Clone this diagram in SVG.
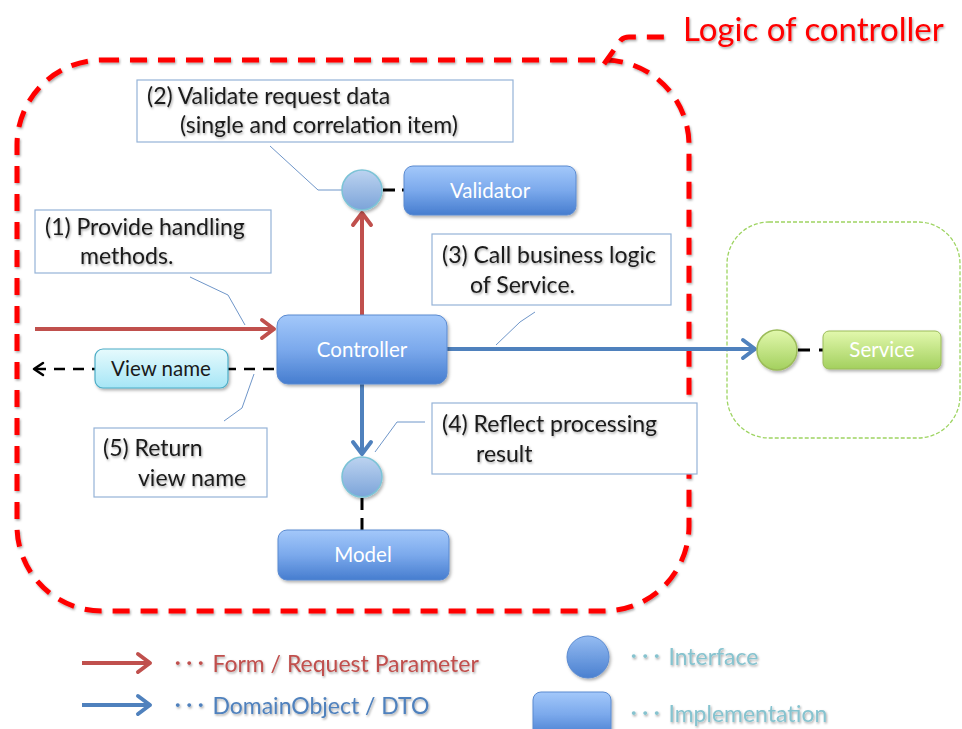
<svg xmlns="http://www.w3.org/2000/svg" width="962" height="729" viewBox="0 0 962 729">
<defs>
  <linearGradient id="gBlue" x1="0" y1="0" x2="0" y2="1">
    <stop offset="0" stop-color="#a3c8fa"/>
    <stop offset="0.5" stop-color="#7ba9ec"/>
    <stop offset="1" stop-color="#467dcf"/>
  </linearGradient>
  <linearGradient id="gIf" x1="0" y1="0" x2="0" y2="1">
    <stop offset="0" stop-color="#bcd3f0"/>
    <stop offset="1" stop-color="#7ca4d9"/>
  </linearGradient>
  <linearGradient id="gIfLegend" x1="0" y1="0" x2="0" y2="1">
    <stop offset="0" stop-color="#95bcf2"/>
    <stop offset="1" stop-color="#4a80d0"/>
  </linearGradient>
  <linearGradient id="gGreen" x1="0" y1="0" x2="0" y2="1">
    <stop offset="0" stop-color="#e2f8ad"/>
    <stop offset="1" stop-color="#a3d05e"/>
  </linearGradient>
  <linearGradient id="gCyan" x1="0" y1="0" x2="0" y2="1">
    <stop offset="0" stop-color="#e6fafd"/>
    <stop offset="1" stop-color="#a6e6f6"/>
  </linearGradient>
  <filter id="sh" x="-20%" y="-20%" width="140%" height="150%">
    <feDropShadow dx="1.5" dy="2" stdDeviation="1.5" flood-color="#000" flood-opacity="0.3"/>
  </filter>
  <filter id="tsh" x="-10%" y="-20%" width="120%" height="150%">
    <feDropShadow dx="1" dy="1.5" stdDeviation="1" flood-color="#000" flood-opacity="0.35"/>
  </filter>
  <marker id="mRed" markerUnits="userSpaceOnUse" viewBox="-16 -12 20 24" markerWidth="20" markerHeight="24" refX="0" refY="0" orient="auto">
    <path d="M-12,-9 L0,0 L-12,9" fill="none" stroke="#c0504d" stroke-width="4" stroke-linecap="round" stroke-linejoin="round"/>
  </marker>
  <marker id="mBlue" markerUnits="userSpaceOnUse" viewBox="-16 -12 20 24" markerWidth="20" markerHeight="24" refX="0" refY="0" orient="auto">
    <path d="M-12,-9 L0,0 L-12,9" fill="none" stroke="#4f81bd" stroke-width="4" stroke-linecap="round" stroke-linejoin="round"/>
  </marker>
  <marker id="mBlack" markerUnits="userSpaceOnUse" viewBox="-14 -10 18 20" markerWidth="18" markerHeight="20" refX="0" refY="0" orient="auto">
    <path d="M-9,-6 L0,0 L-9,6" fill="none" stroke="#000" stroke-width="2.5" stroke-linecap="round" stroke-linejoin="round"/>
  </marker>
  <style>
    .impl { fill: url(#gBlue); stroke: #5a8ad0; stroke-width: 1; filter: url(#sh); }
    .iface { fill: url(#gIf); stroke: #7cc3d6; stroke-width: 1.5; filter: url(#sh); }
    .lbl { font-family: Lato, "Open Sans", "Liberation Sans", sans-serif; font-size: 20.5px; fill: #ffffff; text-anchor: middle; }
    .call { fill: #ffffff; stroke: #95b3d7; stroke-width: 1.2; }
    .ct { font-family: Lato, "Open Sans", "Liberation Sans", sans-serif; font-size: 23px; fill: #1a1a1a; filter: url(#tsh); }
    .ptr { fill: none; stroke: #6f96c9; stroke-width: 1; }
    .red { stroke: #c0504d; stroke-width: 4; fill: none; }
    .blue { stroke: #4f81bd; stroke-width: 4; fill: none; }
    .blk { stroke: #000; stroke-width: 3; fill: none; }
    .leg { font-family: Lato, "Open Sans", "Liberation Sans", "Noto Sans CJK JP", sans-serif; font-size: 23px; filter: url(#tsh); }
  </style>
</defs>

<!-- Logic of controller boundary -->
<g id="controller-logic">
  <rect x="17" y="60" width="672" height="551" rx="85" ry="85" fill="none" stroke="#ff0000" stroke-width="5" stroke-dasharray="17,11" filter="url(#tsh)"/>
  <path d="M604,64 L621,40 Q624,37 629,37 L666,37" fill="none" stroke="#ff0000" stroke-width="5" stroke-dasharray="17,11" filter="url(#tsh)"/>
  <text x="683" y="41" font-family="Lato, 'Open Sans', 'Liberation Sans', sans-serif" font-size="33" fill="#ff0000" filter="url(#tsh)">Logic of controller</text>
</g>

<!-- Service boundary -->
<g id="service-area">
  <rect x="727" y="222" width="233" height="216" rx="42" ry="42" fill="none" stroke="#9ed462" stroke-width="1.3" stroke-dasharray="4,2"/>
</g>

<!-- Connectors -->
<g id="connectors">
  <line x1="35" y1="329" x2="274" y2="329" class="red" marker-end="url(#mRed)"/>
  <line x1="362" y1="315" x2="362" y2="213" class="red" marker-end="url(#mRed)"/>
  <line x1="447" y1="349" x2="755" y2="349" class="blue" marker-end="url(#mBlue)"/>
  <line x1="362" y1="384" x2="362" y2="454" class="blue" marker-end="url(#mBlue)"/>
  <line x1="274" y1="369" x2="34" y2="369" stroke="#000" stroke-width="2.5" stroke-dasharray="11,8" marker-end="url(#mBlack)"/>
  <path d="M383,190 L395,190 M402,190 L405,190" class="blk"/>
  <path d="M362,498 L362,510 M362,518 L362,530" class="blk"/>
  <path d="M798,350 L810,350 M819,350 L823,350" class="blk"/>
  <!-- callout pointers -->
  <polyline points="270,146 318,190 342,190" class="ptr"/>
  <polyline points="190,277 228,295 245,325" class="ptr"/>
  <polyline points="535,312 520,322 496,345" class="ptr"/>
  <polyline points="425,422 397,422 375,452" class="ptr"/>
  <polyline points="224,421 242,408 254,374" class="ptr"/>
</g>

<!-- Nodes -->
<g id="validator-if"><circle cx="362" cy="190" r="20" class="iface"/></g>
<g id="validator">
  <rect x="404" y="166" width="172" height="49" rx="9" class="impl"/>
  <text x="490" y="198" class="lbl">Validator</text>
</g>
<g id="controller">
  <rect x="277" y="315" width="170" height="69" rx="11" class="impl"/>
  <text x="362" y="357" class="lbl">Controller</text>
</g>
<g id="model-if"><circle cx="362" cy="477" r="20" class="iface"/></g>
<g id="model">
  <rect x="278" y="530" width="171" height="50" rx="9" class="impl"/>
  <text x="363" y="562" class="lbl">Model</text>
</g>
<g id="service-if"><circle cx="777" cy="350" r="20" fill="url(#gGreen)" stroke="#9bbb59" stroke-width="1.5" filter="url(#sh)"/></g>
<g id="service">
  <rect x="823" y="331" width="118" height="38" rx="6" fill="url(#gGreen)" stroke="#9bbb59" stroke-width="1" filter="url(#sh)"/>
  <text x="882" y="357" class="lbl">Service</text>
</g>
<g id="view-name">
  <rect x="95" y="349" width="133" height="39" rx="8" fill="url(#gCyan)" stroke="#4bacc6" stroke-width="1.2" filter="url(#sh)"/>
  <text x="161" y="376" class="lbl" style="fill:#1a1a1a">View name</text>
</g>

<!-- Callouts -->
<g id="note-2">
  <rect x="137" y="80" width="376" height="62" class="call"/>
  <text x="147" y="104" class="ct">(2) Validate request data</text>
  <text x="180" y="133" class="ct">(single and correlation item)</text>
</g>
<g id="note-1">
  <rect x="35" y="210" width="236" height="63" class="call"/>
  <text x="45" y="235" class="ct">(1) Provide handling</text>
  <text x="80" y="264" class="ct">methods.</text>
</g>
<g id="note-3">
  <rect x="432" y="234" width="239" height="71" class="call"/>
  <text x="442" y="263" class="ct">(3) Call business logic</text>
  <text x="470" y="293" class="ct">of Service.</text>
</g>
<g id="note-4">
  <rect x="432" y="403" width="265" height="71" class="call"/>
  <text x="442" y="432" class="ct">(4) Reflect processing</text>
  <text x="476" y="462" class="ct">result</text>
</g>
<g id="note-5">
  <rect x="94" y="428" width="173" height="69" class="call"/>
  <text x="103" y="456" class="ct">(5) Return</text>
  <text x="138" y="486" class="ct">view name</text>
</g>

<!-- Legend -->
<g id="legend">
  <line x1="82" y1="663" x2="150" y2="663" class="red" marker-end="url(#mRed)"/>
  <text x="172" y="672" class="leg" fill="#c0504d">･･･ Form / Request Parameter</text>
  <line x1="82" y1="705" x2="150" y2="705" class="blue" marker-end="url(#mBlue)"/>
  <text x="172" y="714" class="leg" fill="#4f81bd">･･･ DomainObject / DTO</text>
  <circle cx="588" cy="657" r="21" fill="url(#gIfLegend)" stroke="#5a8ad0" stroke-width="1" filter="url(#sh)"/>
  <text x="628" y="665" class="leg" fill="#86c3cf">･･･ Interface</text>
  <rect x="533" y="692" width="78" height="45" rx="8" class="impl"/>
  <text x="628" y="722" class="leg" fill="#86c3cf">･･･ Implementation</text>
</g>
</svg>
